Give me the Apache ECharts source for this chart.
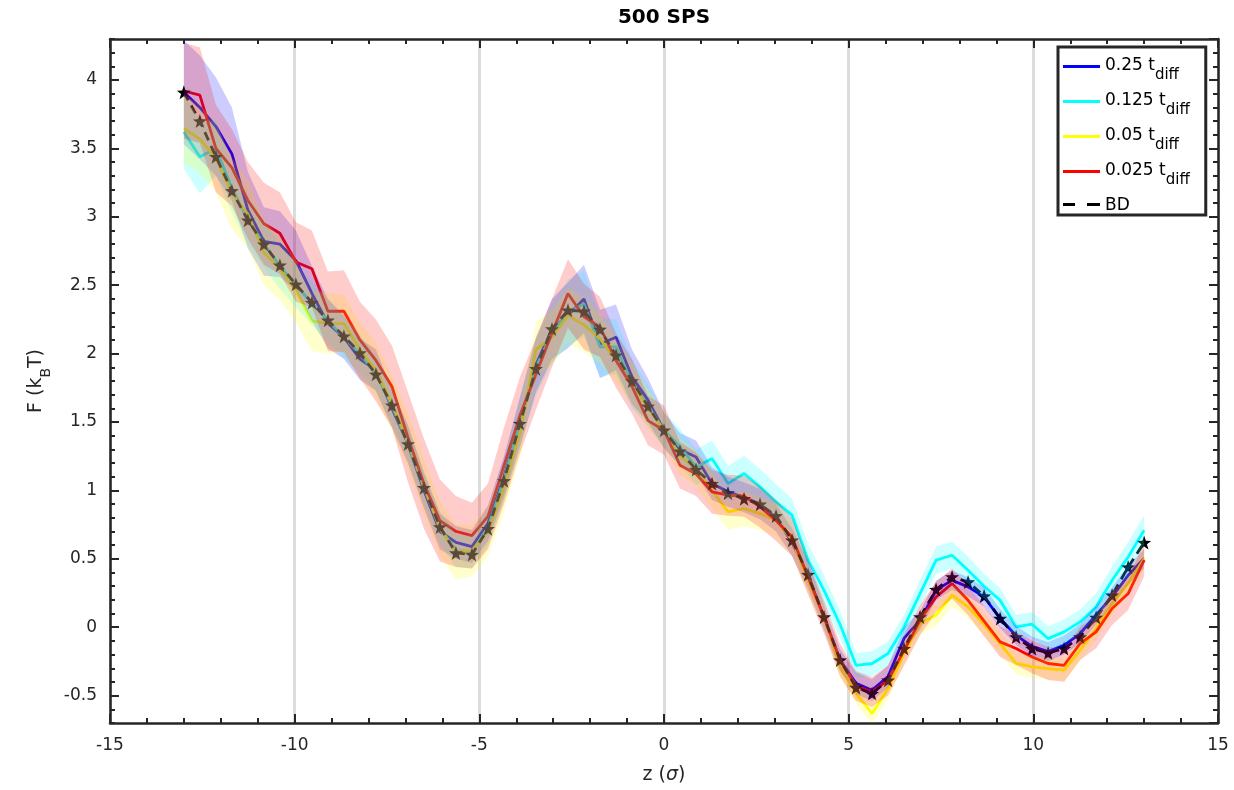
<!DOCTYPE html>
<html>
<head>
<meta charset="utf-8">
<script src="https://cdn.jsdelivr.net/npm/echarts@6/dist/echarts.min.js"></script>
<style>
html, body { margin: 0; padding: 0; background: #ffffff; }
#chart { width: 1234px; height: 790px; }
</style>
</head>
<body>
<div id="chart"></div>
<script>
// Position along the channel, z (sigma)
const zPos = [-13, -12.567, -12.133, -11.7, -11.267, -10.833, -10.4, -9.967, -9.533, -9.1,
  -8.667, -8.233, -7.8, -7.367, -6.933, -6.5, -6.067, -5.633, -5.2, -4.767,
  -4.333, -3.9, -3.467, -3.033, -2.6, -2.167, -1.733, -1.3, -0.867, -0.433,
  0, 0.433, 0.867, 1.3, 1.733, 2.167, 2.6, 3.033, 3.467, 3.9,
  4.333, 4.767, 5.2, 5.633, 6.067, 6.5, 6.933, 7.367, 7.8, 8.233,
  8.667, 9.1, 9.533, 9.967, 10.4, 10.833, 11.267, 11.7, 12.133, 12.567, 13];

// Free energy profiles F (kBT) for each time step
const f025 = [3.91, 3.80, 3.66, 3.46, 3.05, 2.82, 2.80, 2.68, 2.44, 2.22,
  2.12, 1.96, 1.88, 1.60, 1.34, 1.00, 0.70, 0.62, 0.59, 0.76,
  1.10, 1.50, 1.92, 2.18, 2.28, 2.40, 2.07, 2.12, 1.83, 1.66,
  1.44, 1.30, 1.245, 1.05, 0.99, 0.95, 0.90, 0.80, 0.62, 0.38,
  0.07, -0.24, -0.41, -0.46, -0.36, -0.08, 0.05, 0.27, 0.344, 0.295,
  0.222, 0.064, -0.06, -0.14, -0.178, -0.13, -0.046, 0.09, 0.222, 0.38, 0.502];
const f0125 = [3.62, 3.44, 3.50, 3.21, 2.98, 2.80, 2.64, 2.50, 2.37, 2.24,
  2.12, 2.00, 1.85, 1.62, 1.34, 1.02, 0.73, 0.56, 0.55, 0.73,
  1.08, 1.50, 1.90, 2.15, 2.30, 2.365, 2.05, 2.05, 1.78, 1.62,
  1.44, 1.32, 1.17, 1.233, 1.05, 1.124, 1.026, 0.916, 0.82, 0.49,
  0.27, 0.02, -0.278, -0.265, -0.192, 0.002, 0.246, 0.49, 0.526, 0.417,
  0.30, 0.197, 0.002, 0.022, -0.083, -0.034, 0.039, 0.148, 0.344, 0.514, 0.709];
const f005 = [3.645, 3.57, 3.43, 3.17, 3.02, 2.74, 2.62, 2.46, 2.24, 2.22,
  2.22, 2.03, 1.88, 1.635, 1.36, 1.03, 0.72, 0.55, 0.56, 0.70,
  1.02, 1.42, 2.03, 2.12, 2.28, 2.21, 2.11, 1.95, 1.78, 1.60,
  1.44, 1.25, 1.16, 1.00, 0.843, 0.868, 0.831, 0.78, 0.636, 0.34,
  0.075, -0.29, -0.485, -0.63, -0.448, -0.192, 0.027, 0.088, 0.234, 0.148,
  0.02, -0.119, -0.265, -0.29, -0.302, -0.314, -0.168, -0.01, 0.173, 0.319, 0.502];
const f0025 = [3.92, 3.89, 3.50, 3.36, 3.12, 2.95, 2.88, 2.67, 2.62, 2.31,
  2.31, 2.10, 1.95, 1.76, 1.39, 1.05, 0.78, 0.70, 0.67, 0.81,
  1.18, 1.55, 1.85, 2.15, 2.44, 2.27, 2.195, 1.95, 1.76, 1.51,
  1.44, 1.184, 1.12, 0.99, 0.965, 0.958, 0.88, 0.78, 0.66, 0.37,
  0.075, -0.24, -0.43, -0.473, -0.387, -0.17, 0.051, 0.222, 0.319, 0.197,
  0.045, -0.107, -0.156, -0.217, -0.265, -0.278, -0.119, -0.034, 0.137, 0.246, 0.49];
const fBD = [3.91, 3.70, 3.44, 3.19, 2.975, 2.80, 2.646, 2.507, 2.373, 2.244,
  2.127, 2.005, 1.849, 1.623, 1.34, 1.02, 0.733, 0.543, 0.531, 0.72,
  1.07, 1.489, 1.89, 2.18, 2.317, 2.31, 2.178, 1.988, 1.80, 1.615,
  1.44, 1.287, 1.153, 1.05, 0.982, 0.94, 0.899, 0.814, 0.636, 0.385,
  0.075, -0.24, -0.44, -0.485, -0.387, -0.156, 0.075, 0.275, 0.368, 0.331,
  0.228, 0.064, -0.071, -0.156, -0.188, -0.156, -0.071, 0.071, 0.234, 0.44, 0.619];

// Standard deviation of each profile (half width of the shaded band)
const e025 = [0.38, 0.38, 0.36, 0.34, 0.28, 0.25, 0.24, 0.22, 0.20, 0.18,
  0.16, 0.15, 0.15, 0.14, 0.14, 0.13, 0.13, 0.12, 0.12, 0.13,
  0.15, 0.18, 0.20, 0.22, 0.24, 0.25, 0.25, 0.24, 0.20, 0.16,
  0.13, 0.12, 0.12, 0.12, 0.11, 0.11, 0.11, 0.10, 0.10, 0.10,
  0.09, 0.08, 0.08, 0.08, 0.08, 0.08, 0.07, 0.07, 0.07, 0.07,
  0.07, 0.07, 0.07, 0.07, 0.07, 0.07, 0.07, 0.07, 0.07, 0.07, 0.07];
const e0125 = [0.27, 0.27, 0.20, 0.18, 0.18, 0.17, 0.17, 0.16, 0.16, 0.16,
  0.15, 0.14, 0.13, 0.13, 0.12, 0.12, 0.12, 0.12, 0.12, 0.13,
  0.15, 0.18, 0.20, 0.22, 0.24, 0.24, 0.22, 0.20, 0.18, 0.15,
  0.13, 0.13, 0.13, 0.13, 0.13, 0.13, 0.13, 0.13, 0.12, 0.12,
  0.11, 0.10, 0.09, 0.09, 0.09, 0.09, 0.10, 0.10, 0.10, 0.10,
  0.09, 0.09, 0.09, 0.09, 0.09, 0.09, 0.09, 0.10, 0.10, 0.11, 0.11];
const e005 = [0.25, 0.25, 0.25, 0.26, 0.25, 0.24, 0.23, 0.23, 0.22, 0.22,
  0.21, 0.20, 0.20, 0.20, 0.20, 0.20, 0.20, 0.20, 0.19, 0.18,
  0.18, 0.18, 0.20, 0.20, 0.20, 0.20, 0.18, 0.16, 0.15, 0.14,
  0.13, 0.13, 0.13, 0.13, 0.13, 0.13, 0.12, 0.12, 0.11, 0.10,
  0.09, 0.08, 0.08, 0.08, 0.08, 0.08, 0.08, 0.08, 0.08, 0.08,
  0.08, 0.08, 0.08, 0.08, 0.08, 0.08, 0.08, 0.08, 0.08, 0.08, 0.08];
const e0025 = [0.35, 0.35, 0.32, 0.28, 0.28, 0.30, 0.30, 0.29, 0.28, 0.29,
  0.30, 0.28, 0.30, 0.30, 0.33, 0.33, 0.30, 0.26, 0.24, 0.24,
  0.28, 0.28, 0.26, 0.25, 0.25, 0.24, 0.22, 0.20, 0.20, 0.18,
  0.18, 0.17, 0.16, 0.16, 0.15, 0.15, 0.15, 0.15, 0.14, 0.13,
  0.12, 0.12, 0.11, 0.11, 0.11, 0.11, 0.11, 0.11, 0.11, 0.11,
  0.11, 0.11, 0.12, 0.12, 0.12, 0.12, 0.12, 0.12, 0.12, 0.12, 0.12];

const runNames = ['0.25', '0.125', '0.05', '0.025'];
const runColors = ['#0000ff', '#00ffff', '#ffff00', '#ff0000'];
const runBands = ['rgba(0,0,255,0.2)', 'rgba(0,255,255,0.2)', 'rgba(255,255,0,0.2)', 'rgba(255,0,0,0.2)'];
const runMeans = [f025, f0125, f005, f0025];
const runErrs = [e025, e0125, e005, e0025];
const bdName = 'BD';

const FONT = 'DejaVu Sans';
const INK = '#262626';
const STAR = 'path://M0,-10L2.35,-3.24L9.51,-3.09L3.8,1.24L5.88,8.09L0,4.2L-5.88,8.09L-3.8,1.24L-9.51,-3.09L-2.35,-3.24Z';
// legend keys: a 3px bar at the top of a 10px-tall box (the empty lower part lowers the label)
const KEY_SOLID = 'path://M0,0H37V3H0ZM0,10L37,10Z';
const KEY_DASHED = 'path://M0,0H12V3H0ZM24,0H37V3H24ZM0,10L37,10Z';

const pairs = (ys) => zPos.map((x, i) => [x, ys[i]]);

const series = [];
// mean profiles
runNames.forEach((name, r) => {
  series.push({
    name: name, type: 'line', data: pairs(runMeans[r]),
    showSymbol: false, symbol: 'none', color: runColors[r],
    lineStyle: { width: 2.8, color: runColors[r] }, z: 2, silent: true
  });
});
// reference Brownian dynamics profile
series.push({
  name: bdName, type: 'line', data: pairs(fBD),
  symbol: STAR, symbolSize: 14, showSymbol: true, color: '#000000',
  itemStyle: { color: '#000000' },
  lineStyle: { width: 2.8, color: '#000000', type: [9, 6] }, z: 3, silent: true
});
// shaded mean +/- one standard deviation bands, drawn over the lines
runNames.forEach((name, r) => {
  const upper = runMeans[r].map((v, i) => v + runErrs[r][i]);
  const lower = runMeans[r].map((v, i) => v - runErrs[r][i]);
  series.push({
    name: name + ' band', type: 'custom', z: 4, silent: true,
    data: pairs(runMeans[r]), encode: { x: 0, y: 1 },
    renderItem: (params, api) => {
      if (params.dataIndex !== 0) return null;
      const pts = [];
      for (let i = 0; i < zPos.length; i++) pts.push(api.coord([zPos[i], upper[i]]));
      for (let i = zPos.length - 1; i >= 0; i--) pts.push(api.coord([zPos[i], lower[i]]));
      const cs = params.coordSys;
      const clipped = echarts.graphic.clipPointsByRect(pts,
        { x: cs.x, y: cs.y, width: cs.width, height: cs.height });
      return { type: 'polygon', shape: { points: clipped }, style: { fill: runBands[r], stroke: null } };
    }
  });
});

// subscripts: the main run is centred high in a tall line box,
// the subscript run hugs the bottom of that box
const legendRich = {
  m: { fontFamily: FONT, fontSize: 17, color: '#000', lineHeight: 26, verticalAlign: 'top' },
  s: { fontFamily: FONT, fontSize: 15, color: '#000', lineHeight: 6, verticalAlign: 'bottom' },
  b: { fontFamily: FONT, fontSize: 17, color: '#000', lineHeight: 22, verticalAlign: 'top' }
};

const chart = echarts.init(document.getElementById('chart'), null, { renderer: 'canvas' });
chart.setOption({
  animation: false,
  backgroundColor: '#ffffff',
  graphic: [{
    type: 'text', x: 664, y: 18, z: 10,
    style: { text: '500 SPS', textAlign: 'center', textVerticalAlign: 'middle',
      font: 'bold 20px "DejaVu Sans"', fill: '#000' }
  }],
  grid: { left: 110, right: 16, top: 39, bottom: 67, containLabel: false },
  legend: {
    orient: 'vertical', left: 1058, top: 47, z: 10,
    padding: [10, 16, 1, 5], itemGap: 9, itemWidth: 37, itemHeight: 10,
    backgroundColor: '#ffffff', borderColor: INK, borderWidth: 3, borderRadius: 0,
    selectedMode: false,
    itemStyle: { borderWidth: 0 },
    textStyle: { fontFamily: FONT, fontSize: 17, color: '#000', rich: legendRich },
    formatter: (name) => name === bdName ? '{b|BD}' : '{m|' + name + ' t}{s|diff}',
    data: [
      { name: '0.25', icon: KEY_SOLID },
      { name: '0.125', icon: KEY_SOLID },
      { name: '0.05', icon: KEY_SOLID },
      { name: '0.025', icon: KEY_SOLID },
      { name: bdName, icon: KEY_DASHED }
    ]
  },
  xAxis: [
    {
      type: 'value', min: -15, max: 15, interval: 5, position: 'bottom',
      name: '{m|z (}{i|σ}{m|)}', nameLocation: 'middle', nameGap: 43,
      nameTextStyle: { rich: {
        m: { fontFamily: FONT, fontSize: 19, color: INK },
        i: { fontFamily: FONT, fontSize: 19, color: INK, fontStyle: 'italic' } } },
      axisLine: { show: true, onZero: false, lineStyle: { color: INK, width: 2.5 } },
      axisTick: { show: true, inside: true, length: 9, lineStyle: { color: INK, width: 2 } },
      minorTick: { show: true, splitNumber: 5, length: 5, lineStyle: { color: INK, width: 2 } },
      axisLabel: { show: true, margin: 14, fontFamily: FONT, fontSize: 17, color: INK },
      splitLine: { show: true, lineStyle: { color: '#dcdcdc', width: 3 } }
    },
    {
      type: 'value', min: -15, max: 15, interval: 5, position: 'top',
      axisLine: { show: true, onZero: false, lineStyle: { color: INK, width: 2.5 } },
      axisTick: { show: true, inside: true, length: 9, lineStyle: { color: INK, width: 2 } },
      minorTick: { show: true, splitNumber: 5, length: 5, lineStyle: { color: INK, width: 2 } },
      axisLabel: { show: false }, splitLine: { show: false }
    }
  ],
  yAxis: [
    {
      type: 'value', min: -0.7, max: 4.3, splitNumber: 10, position: 'left',
      name: '{m|F (k}{s|B}{m|T)}', nameLocation: 'middle', nameGap: 54, nameRotate: 90,
      nameTextStyle: { rich: {
        m: { fontFamily: FONT, fontSize: 19, color: INK, lineHeight: 26, verticalAlign: 'top' },
        s: { fontFamily: FONT, fontSize: 14, color: INK, lineHeight: 8, verticalAlign: 'bottom' } } },
      axisLine: { show: true, onZero: false, lineStyle: { color: INK, width: 2.5 } },
      axisTick: { show: true, inside: true, length: 9, lineStyle: { color: INK, width: 2 } },
      axisLabel: { show: true, margin: 13, fontFamily: FONT, fontSize: 17, color: INK,
        showMinLabel: false, showMaxLabel: false },
      splitLine: { show: false }
    },
    {
      type: 'value', min: -0.7, max: 4.3, splitNumber: 10, position: 'right',
      axisLine: { show: true, onZero: false, lineStyle: { color: INK, width: 2.5 } },
      axisTick: { show: true, inside: true, length: 9, lineStyle: { color: INK, width: 2 } },
      axisLabel: { show: false }, splitLine: { show: false }
    },
    {
      // minor ticks every 0.1 on the left edge
      type: 'value', min: -0.7, max: 4.3, interval: 0.1, position: 'left',
      axisLine: { show: false, onZero: false }, axisLabel: { show: false }, splitLine: { show: false },
      axisTick: { show: true, inside: true, length: 5, lineStyle: { color: INK, width: 2 } }
    },
    {
      // minor ticks every 0.1 on the right edge
      type: 'value', min: -0.7, max: 4.3, interval: 0.1, position: 'right',
      axisLine: { show: false, onZero: false }, axisLabel: { show: false }, splitLine: { show: false },
      axisTick: { show: true, inside: true, length: 5, lineStyle: { color: INK, width: 2 } }
    }
  ],
  series: series
});
</script>
</body>
</html>
